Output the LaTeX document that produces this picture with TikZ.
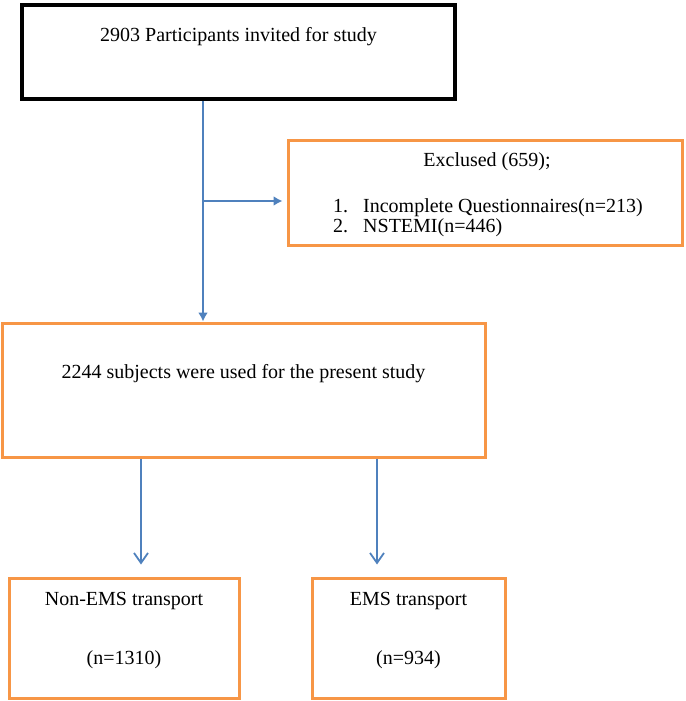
\documentclass[tikz,border=0pt]{standalone}
\usepackage{fontspec}
\setmainfont{Liberation Serif}
\usetikzlibrary{arrows.meta}
\definecolor{boxorange}{HTML}{F79646}
\definecolor{flowblue}{HTML}{4F81BD}
\begin{document}
\begin{tikzpicture}[x=1pt,y=-1pt,
        blackbox/.style={draw=black,line width=3.5pt,minimum width=433pt,minimum height=94pt,inner sep=0pt},
        orangebox/.style={draw=boxorange,line width=3pt,inner sep=0pt},
        txt/.style={anchor=base,font=\fontsize{20}{24}\selectfont,inner sep=0pt},
        flow/.style={draw=flowblue,line width=1.8pt},
        mainarrow/.style={flow,-{Latex[length=9pt,width=10pt]}},
        splitarrow/.style={flow,-{Straight Barb[length=10pt,width=14pt,line width=1.8pt]}}]
                \useasboundingbox (0,0) rectangle (685,701);
                \node[blackbox] (invited) at (238.5,52) {};
                \node[orangebox,minimum width=394pt,minimum height=105pt] (excluded) at (485,192.5) {};
                \node[orangebox,minimum width=483pt,minimum height=134pt] (used) at (243.5,390) {};
                \node[orangebox,minimum width=230pt,minimum height=120pt] (nonems) at (124,638) {};
                \node[orangebox,minimum width=193pt,minimum height=120pt] (ems) at (408.5,638) {};

                \node[txt] (invitedtxt) at (238.5,42) {2903 Participants invited for study};
                \node[txt] (excludedtxt) at (487,166) {Exclused (659);};
                \node[txt,anchor=base west] (reason1) at (333,212) {\makebox[30pt][l]{1.}Incomplete Questionnaires(n=213)};
                \node[txt,anchor=base west] (reason2) at (333,232) {\makebox[30pt][l]{2.}NSTEMI(n=446)};
                \node[txt] (usedtxt) at (243.5,378) {2244 subjects were used for the present study};
                \node[txt] (nonemstxt) at (124,605) {Non-EMS transport};
                \node[txt] (nonemsn) at (124,664) {(n=1310)};
                \node[txt] (emstxt) at (408.5,605) {EMS transport};
                \node[txt] (emsn) at (408.5,664) {(n=934)};

                \coordinate (split) at (203,201);
                \coordinate (leftdrop) at (141,457);
                \coordinate (rightdrop) at (377,457);

                \draw[mainarrow] (invited.south -| split) -- (used.north -| split);
                \draw[mainarrow] (split) -- ([xshift=-4pt]split -| excluded.west);
                \draw[splitarrow,shorten >=12pt] (used.south -| leftdrop) -- (nonems.north -| leftdrop);
                \draw[splitarrow,shorten >=12pt] (used.south -| rightdrop) -- (ems.north -| rightdrop);
            \end{tikzpicture}
\end{document}
